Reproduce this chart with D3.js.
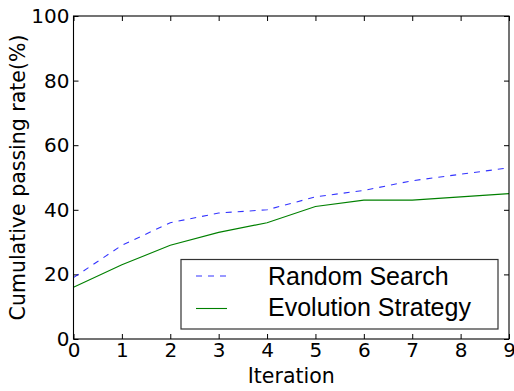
<!DOCTYPE html>
<html>
<head>
<meta charset="utf-8">
<script src="https://cdn.jsdelivr.net/npm/d3@7"></script>
<style>
  html, body { margin: 0; padding: 0; background: #fff; }
  svg { display: block; }
  text { font-family: "DejaVu Sans", sans-serif; fill: #000; }
</style>
</head>
<body>
<svg id="chart" width="514" height="391"></svg>
<script>
// Iterations on the x axis
const iterations = [0, 1, 2, 3, 4, 5, 6, 7, 8, 9];
// Cumulative passing rate (%) per iteration
const randomSearch = [19, 29, 36, 39, 40, 44, 46, 49, 51, 53];
const evolutionStrategy = [16, 23, 29, 33, 36, 41, 43, 43, 44, 45];
const yTicks = [0, 20, 40, 60, 80, 100];
const seriesNames = ["Random Search", "Evolution Strategy"];

const svg = d3.select("#chart");
const margin = { left: 73.5, right: 5, top: 16, bottom: 52 };
const W = 514, H = 391;

const x = d3.scaleLinear().domain([0, 9]).range([margin.left, W - margin.right]);
const y = d3.scaleLinear().domain([0, 100]).range([H - margin.bottom, margin.top]);

const tickLen = 5;
const tickFont = "20px";

// Bottom axis (ticks pointing inward)
const xAxis = d3.axisBottom(x).tickValues(iterations).tickFormat(d3.format("d"))
  .tickSizeInner(-tickLen).tickSizeOuter(0).tickPadding(4);
svg.append("g").attr("transform", `translate(0,${y(0)})`).call(xAxis)
  .call(g => g.select(".domain").remove())
  .call(g => g.selectAll("text").style("font-size", tickFont).style("font-family", "DejaVu Sans"));

// Top axis ticks only
svg.append("g").attr("transform", `translate(0,${y(100)})`)
  .call(d3.axisTop(x).tickValues(iterations).tickSizeInner(-tickLen).tickSizeOuter(0).tickFormat(""))
  .call(g => g.select(".domain").remove());

// Left axis
const yAxis = d3.axisLeft(y).tickValues(yTicks).tickFormat(d3.format("d"))
  .tickSizeInner(-tickLen).tickSizeOuter(0).tickPadding(4);
svg.append("g").attr("transform", `translate(${x(0)},0)`).call(yAxis)
  .call(g => g.select(".domain").remove())
  .call(g => g.selectAll("text").style("font-size", tickFont).style("font-family", "DejaVu Sans"));

// Right axis ticks only
svg.append("g").attr("transform", `translate(${x(9)},0)`)
  .call(d3.axisRight(y).tickValues(yTicks).tickSizeInner(-tickLen).tickSizeOuter(0).tickFormat(""))
  .call(g => g.select(".domain").remove());

// Series lines
const line = d3.line().x((d, i) => x(iterations[i])).y(d => y(d));

svg.append("path").datum(randomSearch)
  .attr("d", line).attr("fill", "none")
  .attr("stroke", "#0000ff").attr("stroke-opacity", 0.8).attr("stroke-width", 1.1)
  .attr("stroke-dasharray", "6,6");

svg.append("path").datum(evolutionStrategy)
  .attr("d", line).attr("fill", "none")
  .attr("stroke", "#008000").attr("stroke-width", 1.1);

// Plot frame
svg.append("rect")
  .attr("x", x(0)).attr("y", y(100))
  .attr("width", x(9) - x(0)).attr("height", y(0) - y(100))
  .attr("fill", "none").attr("stroke", "#000").attr("stroke-width", 1.1);

// Axis titles
svg.append("text")
  .attr("x", (x(0) + x(9)) / 2).attr("y", 382.5)
  .attr("text-anchor", "middle").style("font-size", "20.5px")
  .text("Iteration");

svg.append("text")
  .attr("transform", `translate(25,${(y(0) + y(100)) / 2}) rotate(-90)`)
  .attr("text-anchor", "middle").style("font-size", "20.5px")
  .text("Cumulative passing rate(%)");

// Legend
const legend = svg.append("g");
legend.append("rect")
  .attr("x", 181).attr("y", 259.5).attr("width", 317).attr("height", 69.5)
  .attr("fill", "#fff").attr("stroke", "#333").attr("stroke-width", 1.2);

const legendStyles = [
  { stroke: "#0000ff", opacity: 0.8, dash: "6,6" },
  { stroke: "#008000", opacity: 1, dash: null }
];
seriesNames.forEach((name, i) => {
  const cy = 276 + i * 32.5;
  legend.append("line")
    .attr("x1", 196).attr("x2", 227).attr("y1", cy).attr("y2", cy)
    .attr("stroke", legendStyles[i].stroke).attr("stroke-opacity", legendStyles[i].opacity)
    .attr("stroke-width", 1.1).attr("stroke-dasharray", legendStyles[i].dash);
  legend.append("text")
    .attr("x", 268).attr("y", 284.5 + i * 31)
    .style("font-family", "'Liberation Sans', Arial, sans-serif")
    .style("font-size", "25px")
    .text(name);
});
</script>
</body>
</html>
